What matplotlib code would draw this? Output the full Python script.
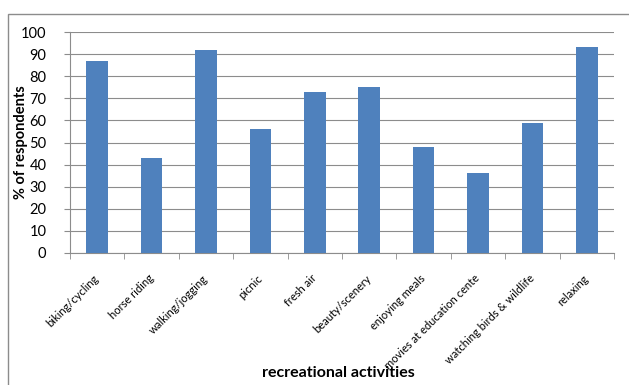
import matplotlib
matplotlib.use("Agg")
import matplotlib.pyplot as plt
from matplotlib.patches import Rectangle

activities = ['biking/cycling', 'horse riding', 'walking/jogging', 'picnic',
              'fresh air', 'beauty/scenery', 'enjoying meals',
              'movies at education cente', 'watching birds & wildlife',
              'relaxing']
percent = [87, 43, 92, 56, 73, 75, 48, 36, 59, 93]
y_ticks = [0, 10, 20, 30, 40, 50, 60, 70, 80, 90, 100]

plt.rcParams['font.family'] = ['Lato', 'DejaVu Sans']

fig = plt.figure(figsize=(6.29, 3.85), dpi=100)
# outer chart frame, cut off at right and bottom like the original
fig.patches.append(Rectangle((8 / 629, -0.1), 1.0, 1 - 14 / 385 + 0.1,
                             transform=fig.transFigure, fill=False,
                             edgecolor='#8c8c8c', linewidth=1.0))

ax = fig.add_axes([70 / 629, 1 - 253 / 385, 544 / 629, 221 / 385])
x = list(range(len(activities)))
ax.bar(x, percent, width=0.4, color='#4f81bd', zorder=3)

ax.set_xlim(-0.5, len(activities) - 0.5)
ax.set_ylim(0, 100)
ax.set_yticks(y_ticks)
ax.set_yticklabels([str(v) for v in y_ticks], fontsize=10.5)
ax.yaxis.grid(True, color='#8c8c8c', linewidth=0.8, zorder=0)

ax.set_xticks(x)
ax.set_xticklabels(activities, rotation=45, ha='right', va='center',
                   rotation_mode='anchor', fontsize=8.0)
ax.set_xticks([i + 0.5 for i in range(-1, len(activities))], minor=True)
ax.tick_params(axis='x', which='major', length=0, pad=17)
ax.tick_params(axis='x', which='minor', length=4, color='#8c8c8c')
ax.tick_params(axis='y', length=4, color='#8c8c8c', pad=13)

for side in ['top', 'right']:
    ax.spines[side].set_visible(False)
ax.spines['left'].set_color('#8c8c8c')
ax.spines['bottom'].set_color('#8c8c8c')

ax.set_ylabel('% of respondents', fontsize=10.5, fontweight='bold')
ax.yaxis.set_label_coords(-42 / 544, 0.5)
fig.text(338 / 629, 1 - 373 / 385, 'recreational activities', fontsize=11.5,
         fontweight='bold', ha='center', va='center')

fig.savefig('out.png', dpi=100)
